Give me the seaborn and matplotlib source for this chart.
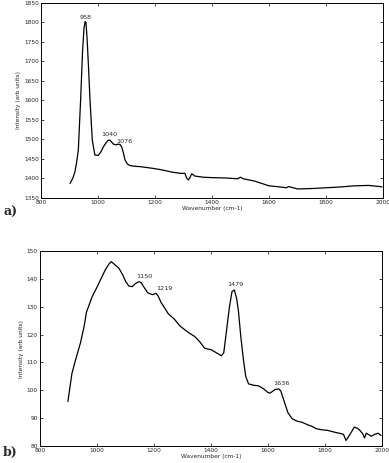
import seaborn as sns
import pandas as pd
import matplotlib.pyplot as plt

# panel a) spectrum
wn_a = [902, 912, 919, 925, 931, 939, 946, 951, 955, 958, 962, 967, 972, 980, 989, 1001,
        1010, 1019, 1028, 1036, 1042, 1054, 1063, 1071, 1077, 1083, 1089, 1095, 1103, 1112, 1130,
        1150, 1180, 1200, 1230, 1260, 1290, 1305, 1311, 1317, 1322, 1329, 1340, 1370,
        1400, 1450, 1490, 1500, 1510, 1550, 1600, 1640, 1660, 1670, 1700, 1750, 1800,
        1850, 1900, 1950, 1990, 1997]
int_a = [1386, 1400, 1416, 1440, 1472, 1600, 1728, 1785, 1801, 1798, 1754, 1680, 1600, 1497, 1459, 1458,
         1467, 1480, 1490, 1497, 1497, 1487, 1485, 1487, 1486, 1480, 1465, 1446, 1436, 1432, 1430,
         1429, 1426, 1424, 1420, 1415, 1412, 1412, 1400, 1395, 1400, 1411, 1405, 1402,
         1401, 1400, 1398, 1402, 1398, 1392, 1380, 1377, 1375, 1378, 1372, 1373, 1375,
         1377, 1380, 1381, 1378, 1377]
peaks_a = [958, 1040, 1076]
peak_txt_a = [(958, 1812), (1040, 1512), (1093, 1494)]

# panel b) spectrum
wn_b = [898, 905, 912, 925, 942, 955, 963, 983, 1000, 1012, 1030, 1042, 1050, 1058,
        1068, 1077, 1090, 1101, 1112, 1124, 1135, 1148, 1155, 1165, 1178, 1195, 1207,
        1215, 1225, 1236, 1250, 1272, 1290, 1301, 1320, 1343, 1360, 1378, 1390, 1402,
        1420, 1437, 1445, 1455, 1465, 1474, 1482, 1490, 1496, 1505, 1514, 1522, 1532,
        1550, 1567, 1585, 1600, 1608, 1625, 1638, 1645, 1655, 1670, 1685, 1700, 1720,
        1740, 1756, 1770, 1791, 1810, 1832, 1850, 1865, 1874, 1890, 1903, 1915, 1921,
        1932, 1939, 1945, 1955, 1962, 1975, 1986, 1997]
int_b = [96, 101, 106, 111, 117, 123, 128, 133.6, 137, 139.6, 143.4, 145.3, 146.2, 145.5,
         144.6, 143.8, 141.5, 139, 137.4, 137.2, 138.3, 139, 138.6, 137, 135, 134.3, 134.8,
         133.8, 131.5, 129.8, 127.5, 125.5, 123.2, 122.3, 120.8, 119.3, 117.5, 115.1, 114.8, 114.5,
         113.4, 112.4, 113.5, 121.7, 130, 135.5, 136, 133, 128.9, 119, 111, 105, 102.3,
         101.8, 101.6, 100.5, 99.2, 99, 100.3, 100.5, 99.8, 96.6, 92, 89.8, 89, 88.5,
         87.6, 87, 86.2, 85.8, 85.6, 85, 84.6, 84.2, 82, 84.5, 86.8, 86.3, 85.8,
         84.5, 82.9, 84.6, 84, 83.5, 84.2, 84.6, 83.8]
peaks_b = [1150, 1219, 1479, 1636]
peak_txt_b = [(1168, 140.8), (1236, 136.6), (1486, 137.8), (1646, 102.6)]

df_a = pd.DataFrame({'Wavenumber': wn_a, 'Intensity': int_a})
df_b = pd.DataFrame({'Wavenumber': wn_b, 'Intensity': int_b})

sns.set_style('ticks')
plt.rcParams['font.family'] = ['DejaVu Sans']

fig = plt.figure(figsize=(3.89, 4.63), dpi=100)
ax1 = fig.add_axes([0.1054, 0.5734, 0.879, 0.4212])
ax2 = fig.add_axes([0.1028, 0.0367, 0.879, 0.4212])

for ax, df, peaks, txt, ylim, yticks in [
        (ax1, df_a, peaks_a, peak_txt_a, (1350, 1850), range(1350, 1851, 50)),
        (ax2, df_b, peaks_b, peak_txt_b, (80, 150), range(80, 151, 10))]:
    sns.lineplot(data=df, x='Wavenumber', y='Intensity', color='black', linewidth=0.9,
                 ax=ax, sort=False)
    ax.set_xlim(800, 2000)
    ax.set_ylim(*ylim)
    ax.set_xticks(range(800, 2001, 200))
    ax.set_yticks(list(yticks))
    ax.tick_params(direction='in', length=2.5, width=0.6, labelsize=4.2, pad=1.5,
                   top=True, right=True)
    for s in ax.spines.values():
        s.set_linewidth(0.7)
        s.set_color('black')
    ax.set_xlabel('Wavenumber (cm-1)', fontsize=4.2, labelpad=1)
    ax.set_ylabel('Intensity (arb units)', fontsize=4.2, labelpad=2)
    for p, (tx, ty) in zip(peaks, txt):
        ax.text(tx, ty, str(p), fontsize=4.6, ha='center', va='center')

fig.text(0.008, 0.542, 'a)', fontsize=9, fontweight='bold', family='DejaVu Serif',
         va='center')
fig.text(0.008, 0.022, 'b)', fontsize=9, fontweight='bold', family='DejaVu Serif',
         va='center')

fig.savefig('out.png', dpi=100)
